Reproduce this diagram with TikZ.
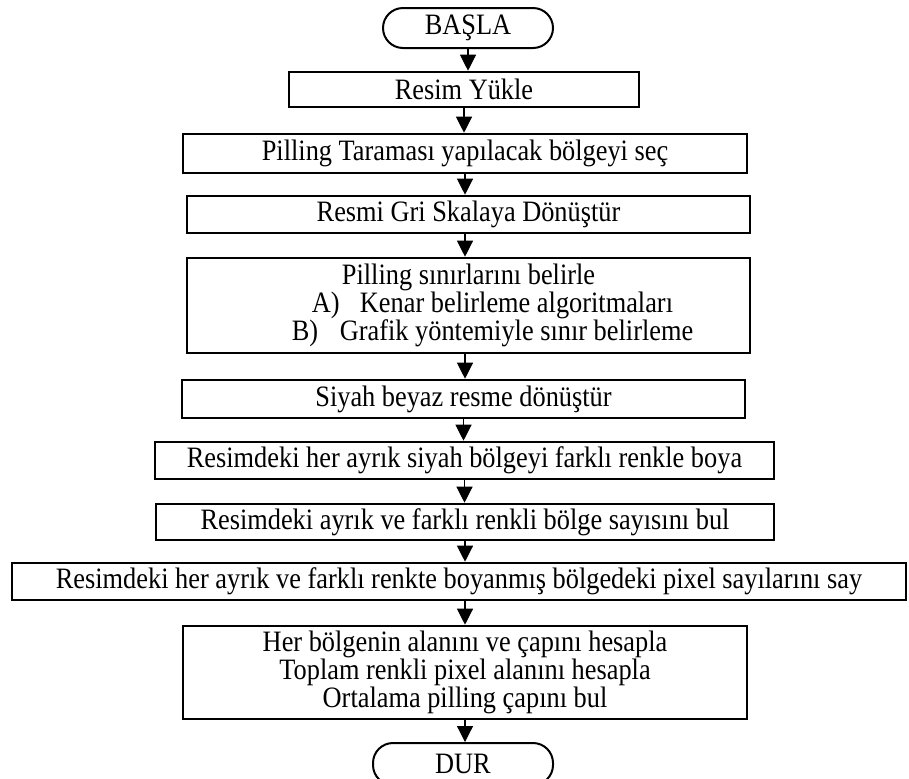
\documentclass[tikz,border=0pt]{standalone}
\usepackage{fontspec}
\setmainfont{Liberation Serif}[FakeStretch=0.89]
\usetikzlibrary{arrows.meta}
\begin{document}
\begin{tikzpicture}[x=0.5pt,y=-0.5pt,
  stepbox/.style={draw, line width=1.3pt, inner sep=0pt, align=center,
    font=\fontsize{14.8}{14}\selectfont},
  termbox/.style={draw, line width=1pt, rounded corners=10pt, inner sep=0pt,
    font=\fontsize{14.8}{14}\selectfont},
  arr/.style={line width=0.6pt, -{Triangle[width=8pt,length=8pt]}}
]
\useasboundingbox (0,0) rectangle (909,778);

% process steps
\node[termbox, minimum width=85pt, minimum height=20pt] (start) at (468,28) {BAŞLA};
\node[stepbox, minimum width=175pt, minimum height=17.5pt] (resim) at (464,89.5) {Resim Yükle};
\node[stepbox, minimum width=282pt, minimum height=19.5pt] (tarama) at (465,153.5) {Pilling Taraması yapılacak bölgeyi seç};
\node[stepbox, minimum width=281.5pt, minimum height=18.5pt] (gri) at (468.5,214.5) {Resmi Gri Skalaya Dönüştür};
\node[stepbox, minimum width=281.5pt, minimum height=47.5pt] (sinir) at (468.5,305.5)
  {Pilling sınırlarını belirle\\
   \hspace*{24pt}\makebox[24pt][l]{A)}Kenar belirleme algoritmaları\\
   \hspace*{24pt}\makebox[24pt][l]{B)}Grafik yöntemiyle sınır belirleme};
\node[stepbox, minimum width=281.5pt, minimum height=19pt] (siyah) at (463.5,399) {Siyah beyaz resme dönüştür};
\node[stepbox, minimum width=309.5pt, minimum height=18.5pt] (boya) at (464.5,460.5) {Resimdeki her ayrık siyah bölgeyi farklı renkle boya};
\node[stepbox, minimum width=309pt, minimum height=18pt] (sayi) at (465,522) {Resimdeki ayrık ve farklı renkli bölge sayısını bul};
\node[stepbox, minimum width=447pt, minimum height=18.5pt] (piksel) at (459,581.5) {Resimdeki her ayrık ve farklı renkte boyanmış bölgedeki pixel sayılarını say};
\node[stepbox, minimum width=282pt, minimum height=46.5pt] (alan) at (465,672.5)
  {Her bölgenin alanını ve çapını hesapla\\
   Toplam renkli pixel alanını hesapla\\
   Ortalama pilling çapını bul};
\node[termbox, minimum width=90pt, minimum height=21pt] (stop) at (463,764) {DUR};

% connectors
\draw[arr] (start.south) -- (start.south |- resim.north);
\draw[arr] (resim.south) -- (resim.south |- tarama.north);
\draw[arr] (tarama.south) -- (tarama.south |- gri.north);
\draw[arr] (gri.south -| tarama.south) -- (tarama.south |- sinir.north);
\draw[arr] (sinir.south -| tarama.south) -- (tarama.south |- siyah.north);
\draw[arr] (siyah.south) -- (siyah.south |- boya.north);
\draw[arr] (boya.south) -- (boya.south |- sayi.north);
\draw[arr] (sayi.south) -- (sayi.south |- piksel.north);
\draw[arr] (piksel.south -| sayi.south) -- (sayi.south |- alan.north);
\draw[arr] (alan.south) -- (alan.south |- stop.north);
\end{tikzpicture}
\end{document}
